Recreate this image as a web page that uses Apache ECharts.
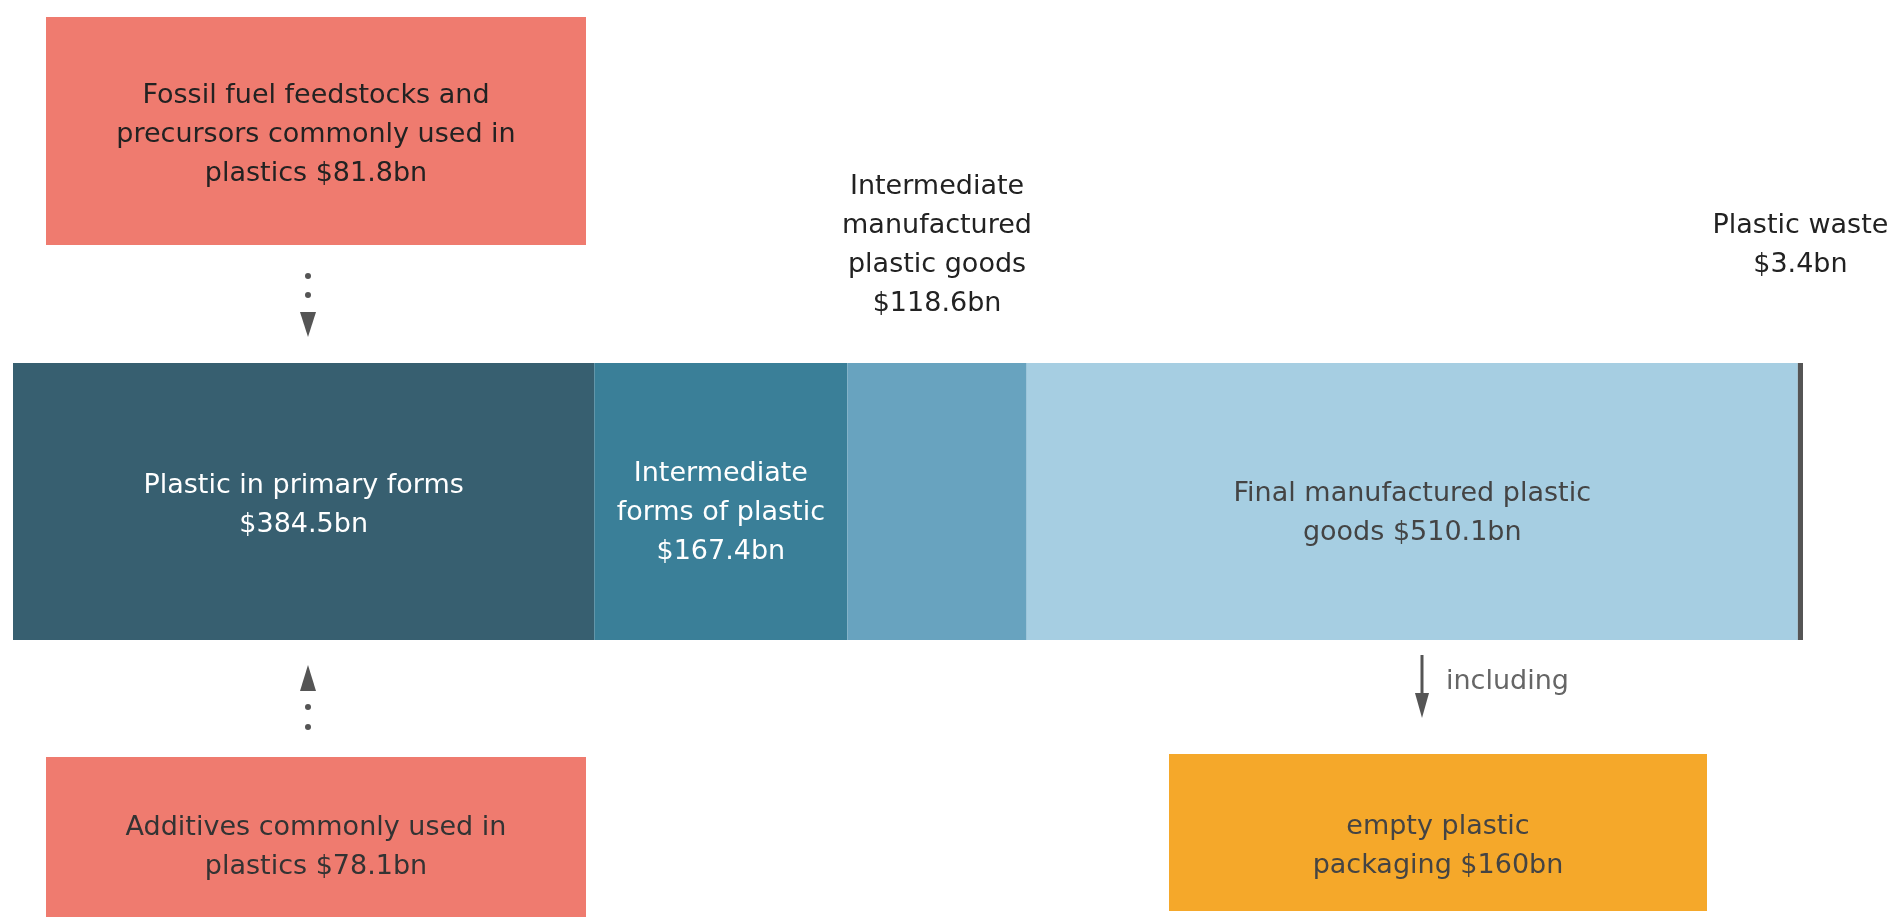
<!DOCTYPE html>
<html lang="en">
<head>
    <meta charset="UTF-8">
    <title>Plastic value chain</title>
    <script src="https://cdn.jsdelivr.net/npm/echarts@6/dist/echarts.min.js"></script>
    <style>
        body {
            margin: 0;
            padding: 0;
            background: #fff;
        }
        #chart {
            width: 1892px;
            height: 917px;
        }
    </style>
</head>
<body>
    <div id="chart"></div>
    <script>
        // stages of the chain, left to right ($bn)
        var stageNames = ['Plastic in primary forms', 'Intermediate forms of plastic', 'Intermediate manufactured plastic goods', 'Final manufactured plastic goods', 'Plastic waste'];
        var stageValues = [384.5, 167.4, 118.6, 510.1, 3.4];
        var stageLabels = [
            'Plastic in primary forms\n$384.5bn',
            'Intermediate\nforms of plastic\n$167.4bn',
            'Intermediate\nmanufactured\nplastic goods\n$118.6bn',
            'Final manufactured plastic\ngoods $510.1bn',
            'Plastic waste\n$3.4bn'
        ];
        // inputs and sub-part ($bn)
        var inputNames = ['Fossil fuel feedstocks and\nprecursors commonly used in\nplastics', 'Additives commonly used in\nplastics'];
        var inputValues = [81.8, 78.1];
        var packagingName = 'empty plastic\npackaging';
        var packagingValue = 160;

        var colors = ['#375f70', '#3a7f98', '#68a3bf', '#a6cee2', '#555555'];
        var font = '"DejaVu Sans", sans-serif';
        var fontSize = 27;

        var total = stageValues.reduce(function (a, b) { return a + b; }, 0);

        var labelStyle = [
            { position: 'inside', color: '#ffffff', offset: [0, 4] },
            { position: 'inside', color: '#ffffff', offset: [0, 11] },
            { position: 'top', distance: 40, color: '#222222' },
            { position: 'inside', color: '#444444', offset: [0, 12] },
            { position: 'top', distance: 79, color: '#222222' }
        ];

        var series = stageValues.map(function (v, i) {
            return {
                name: stageNames[i],
                type: 'bar',
                stack: 'chain',
                barWidth: '100%',
                data: [v],
                itemStyle: { color: colors[i] },
                label: {
                    show: true,
                    position: labelStyle[i].position,
                    distance: labelStyle[i].distance || 5,
                    offset: labelStyle[i].offset || [0, 0],
                    color: labelStyle[i].color,
                    fontFamily: font,
                    fontSize: fontSize,
                    lineHeight: 39,
                    align: 'center',
                    formatter: function () { return stageLabels[i]; }
                }
            };
        });

        function box(x, y, w, h, fill, text, color, dy) {
            return [
                { type: 'rect', shape: { x: x, y: y, width: w, height: h }, style: { fill: fill } },
                {
                    type: 'text', x: x + w / 2, y: y + h / 2 + dy,
                    style: { text: text, fill: color, font: fontSize + 'px ' + font, lineHeight: 39, align: 'center', verticalAlign: 'middle' }
                }
            ];
        }

        var graphics = []
            .concat(box(46, 17, 540, 228, '#ef7b6f', inputNames[0] + ' $' + inputValues[0] + 'bn', '#222', 4))
            .concat(box(46, 757, 540, 174, '#ef7b6f', inputNames[1] + ' $' + inputValues[1] + 'bn', '#333', 3))
            .concat(box(1169, 754, 538, 157, '#f5a82a', packagingName + ' $' + packagingValue + 'bn', '#444', 14));

        // dotted arrows
        graphics.push(
            { type: 'circle', shape: { cx: 308, cy: 276, r: 3 }, style: { fill: '#555' } },
            { type: 'circle', shape: { cx: 308, cy: 295, r: 3 }, style: { fill: '#555' } },
            { type: 'polygon', shape: { points: [[300, 312], [316, 312], [308, 337]] }, style: { fill: '#555' } },
            { type: 'polygon', shape: { points: [[308, 665], [300, 691], [316, 691]] }, style: { fill: '#555' } },
            { type: 'circle', shape: { cx: 308, cy: 707, r: 3 }, style: { fill: '#555' } },
            { type: 'circle', shape: { cx: 308, cy: 727, r: 3 }, style: { fill: '#555' } },
            { type: 'line', shape: { x1: 1422, y1: 655, x2: 1422, y2: 700 }, style: { stroke: '#555', lineWidth: 3 } },
            { type: 'polygon', shape: { points: [[1415, 693], [1429, 693], [1422, 718]] }, style: { fill: '#555' } },
            { type: 'text', x: 1446, y: 682, style: { text: 'including', fill: '#666', font: fontSize + 'px ' + font, verticalAlign: 'middle' } }
        );

        var chart = echarts.init(document.getElementById('chart'));
        chart.setOption({
            animation: false,
            grid: { left: 13, right: 89, top: 363, height: 277 },
            xAxis: { type: 'value', min: 0, max: total, show: false },
            yAxis: { type: 'category', data: ['Value'], show: false },
            series: series,
            graphic: graphics
        });
    </script>
</body>
</html>
